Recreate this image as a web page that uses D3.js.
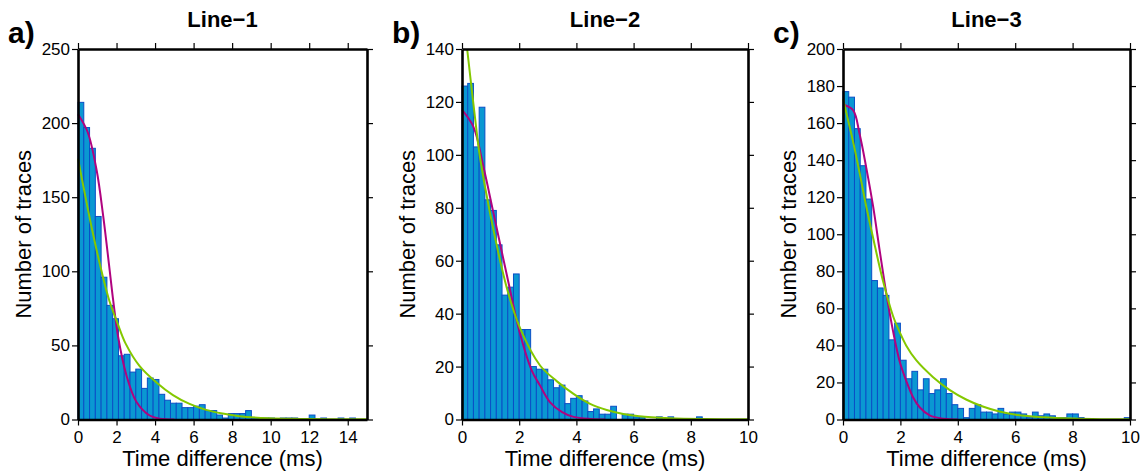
<!DOCTYPE html>
<html><head><meta charset="utf-8">
<script src="https://cdn.jsdelivr.net/npm/d3@7"></script>
<style>
html,body{margin:0;padding:0;background:#fff;}
svg text{font-family:"Liberation Sans",Arial,Helvetica,sans-serif;fill:#000;}
</style></head>
<body>
<svg id="chart" width="1144" height="473"></svg>
<script>
// ---------------- data ----------------
const panelLetters = ["a)", "b)", "c)"];
const panelTitles = ["Line\u22121", "Line\u22122", "Line\u22123"];
const xLabel = "Time difference (ms)";
const yLabel = "Number of traces";

const binWidthA = 0.3, binWidthB = 0.2, binWidthC = 0.2;
const xMaxA = 15, xMaxB = 10, xMaxC = 10;
const yMaxA = 250, yMaxB = 140, yMaxC = 200;
const xTicksA = [0, 2, 4, 6, 8, 10, 12, 14];
const xTicksB = [0, 2, 4, 6, 8, 10];
const xTicksC = [0, 2, 4, 6, 8, 10];
const yTicksA = [0, 50, 100, 150, 200, 250];
const yTicksB = [0, 20, 40, 60, 80, 100, 120, 140];
const yTicksC = [0, 20, 40, 60, 80, 100, 120, 140, 160, 180, 200];

const countsA = [214,197,183,137,96,77,68,43,44,32, 34,21,28,27,17,13,11,11,8,8,
                 9,10,6,6,3,1,4,4,4,6, 1,1,1,1,0,1,1,1,0,0, 3,0,1,0,0,1,0,1,0,0];
const countsB = [126,127,103,118,83,79,66,47,50,55, 34,34,20,19,19,15,12,13,6,8,
                 9,7,3,4,2,2,5,0,2,2, 1,1,0,0,1,0,1,0,0,0, 0,1,0,0,0,0,0,0,0,0];
const countsC = [177,174,157,137,119,75,71,67,43,52, 32,22,26,16,22,14,16,22,14,8,
                 6,1,6,8,4,4,3,6,3,4, 4,3,1,4,2,3,2,1,1,3, 3,1,0,0,0,0,0,0,0,1];

// fitted curves: [time, count]
const gaussA = [[0,206],[0.5,194],[0.97,168],[1.31,137],[1.65,100],[1.83,80],[2.08,56],
                [2.51,30],[3.03,12],[3.72,2.7],[4.24,0.6],[5,0]];
const expA = [[0,176],[0.75,127],[1.28,97],[1.63,80],[2.05,65],[2.48,51],[3.2,36],
              [4.07,25],[4.93,16.5],[5.79,10.5],[6.65,6.5],[7.5,4],[8.37,2.2],[9.9,0.9],
              [11.5,0.4],[13,0.2],[15,0.1]];
const gaussB = [[0,117],[0.4,110.6],[0.75,95.5],[1.1,78],[1.56,55],[2.03,32.4],[2.44,18.5],
                [2.73,12.8],[3.08,6.5],[3.5,2.8],[3.9,1],[4.5,0.2],[5,0]];
const expB = [[0.18,140],[0.52,108],[0.63,99],[0.98,78],[1.56,50],[2.03,34.5],[2.73,20.4],
              [3.31,14.5],[3.9,9.7],[4.48,5.9],[5.06,3.6],[5.64,2.1],[6.2,1.2],[7.27,0.5],
              [8.5,0.2],[10,0.1]];
const gaussC = [[0,170],[0.35,167],[0.58,154],[0.81,136],[1.05,115],[1.28,91],[1.51,68],
                [1.74,48],[1.98,31],[2.2,21],[2.44,12],[2.67,6.6],[3.02,2.2],[3.5,0.4],[4,0]];
const expC = [[0,173],[0.35,150],[0.58,133],[0.81,115],[1.05,98],[1.39,75],[1.74,56],
              [1.98,47],[2.2,40],[2.55,32],[3.13,23],[3.71,16],[4.29,10.8],[4.87,7],
              [5.45,4.3],[6.03,2.6],[7,1.2],[8,0.5],[9,0.2],[10,0.1]];

// ---------------- drawing ----------------
const panels = [
  {letter: panelLetters[0], title: panelTitles[0], bw: binWidthA, xMax: xMaxA, yMax: yMaxA,
   xTicks: xTicksA, yTicks: yTicksA, counts: countsA, gauss: gaussA, expo: expA, left: 78, right: 367},
  {letter: panelLetters[1], title: panelTitles[1], bw: binWidthB, xMax: xMaxB, yMax: yMaxB,
   xTicks: xTicksB, yTicks: yTicksB, counts: countsB, gauss: gaussB, expo: expB, left: 462, right: 748},
  {letter: panelLetters[2], title: panelTitles[2], bw: binWidthC, xMax: xMaxC, yMax: yMaxC,
   xTicks: xTicksC, yTicks: yTicksC, counts: countsC, gauss: gaussC, expo: expC, left: 843, right: 1130}
];
const plotTop = 49, plotBottom = 419.5;
const svg = d3.select("#chart");

panels.forEach(p => {
  const x = d3.scaleLinear().domain([0, p.xMax]).range([p.left, p.right]);
  const y = d3.scaleLinear().domain([0, p.yMax]).range([plotBottom, plotTop]);
  const g = svg.append("g");

  // bars
  const bins = p.counts.map((c, i) => ({x0: i * p.bw, x1: (i + 1) * p.bw, c}));
  g.append("g").selectAll("rect").data(bins.filter(b => b.c > 0)).join("rect")
    .attr("x", d => x(d.x0))
    .attr("y", d => y(d.c))
    .attr("width", d => x(d.x1) - x(d.x0))
    .attr("height", d => y(0) - y(d.c))
    .attr("fill", "#0a98d2")
    .attr("stroke", "#0b4fc6")
    .attr("stroke-width", 1);

  const line = d3.line().x(d => x(d[0])).y(d => y(Math.max(0, d[1])))
    .curve(d3.curveCatmullRom.alpha(0.5));
  g.append("path").attr("d", line(p.gauss)).attr("fill", "none")
    .attr("stroke", "#b0037f").attr("stroke-width", 2);
  g.append("path").attr("d", line(p.expo)).attr("fill", "none")
    .attr("stroke", "#84c800").attr("stroke-width", 2);

  // axes (frame with outward ticks on all sides)
  const styleAxis = sel => {
    sel.select(".domain").attr("stroke", "#000").attr("stroke-width", 2.6);
    sel.selectAll(".tick line").attr("stroke", "#000").attr("stroke-width", 1.2);
    sel.selectAll(".tick text").attr("font-size", 17).attr("font-family", '"Liberation Sans",Arial,sans-serif');
  };
  g.append("g").attr("transform", `translate(0,${plotBottom})`)
    .call(d3.axisBottom(x).tickValues(p.xTicks).tickSize(6).tickSizeOuter(0).tickPadding(5))
    .call(styleAxis);
  g.append("g").attr("transform", `translate(0,${plotTop})`)
    .call(d3.axisTop(x).tickValues(p.xTicks).tickSize(6).tickSizeOuter(0).tickFormat(""))
    .call(styleAxis);
  g.append("g").attr("transform", `translate(${p.left},0)`)
    .call(d3.axisLeft(y).tickValues(p.yTicks).tickSize(6).tickSizeOuter(0).tickPadding(2))
    .call(styleAxis);
  g.append("g").attr("transform", `translate(${p.right},0)`)
    .call(d3.axisRight(y).tickValues(p.yTicks).tickSize(6).tickSizeOuter(0).tickFormat(""))
    .call(styleAxis);

  // texts
  g.append("text").attr("x", (p.left + p.right) / 2).attr("y", 27)
    .attr("text-anchor", "middle").attr("font-size", 22).attr("font-weight", "bold").text(p.title);
  g.append("text").attr("x", p.left - 70).attr("y", 43)
    .attr("font-size", 30).attr("font-weight", "bold").text(p.letter);
  g.append("text").attr("x", (p.left + p.right) / 2).attr("y", 466)
    .attr("text-anchor", "middle").attr("font-size", 22).text(xLabel);
  g.append("text").attr("transform", `translate(${p.left - 47},${(plotTop + plotBottom) / 2}) rotate(-90)`)
    .attr("text-anchor", "middle").attr("font-size", 22).text(yLabel);
});
</script>
</body></html>
